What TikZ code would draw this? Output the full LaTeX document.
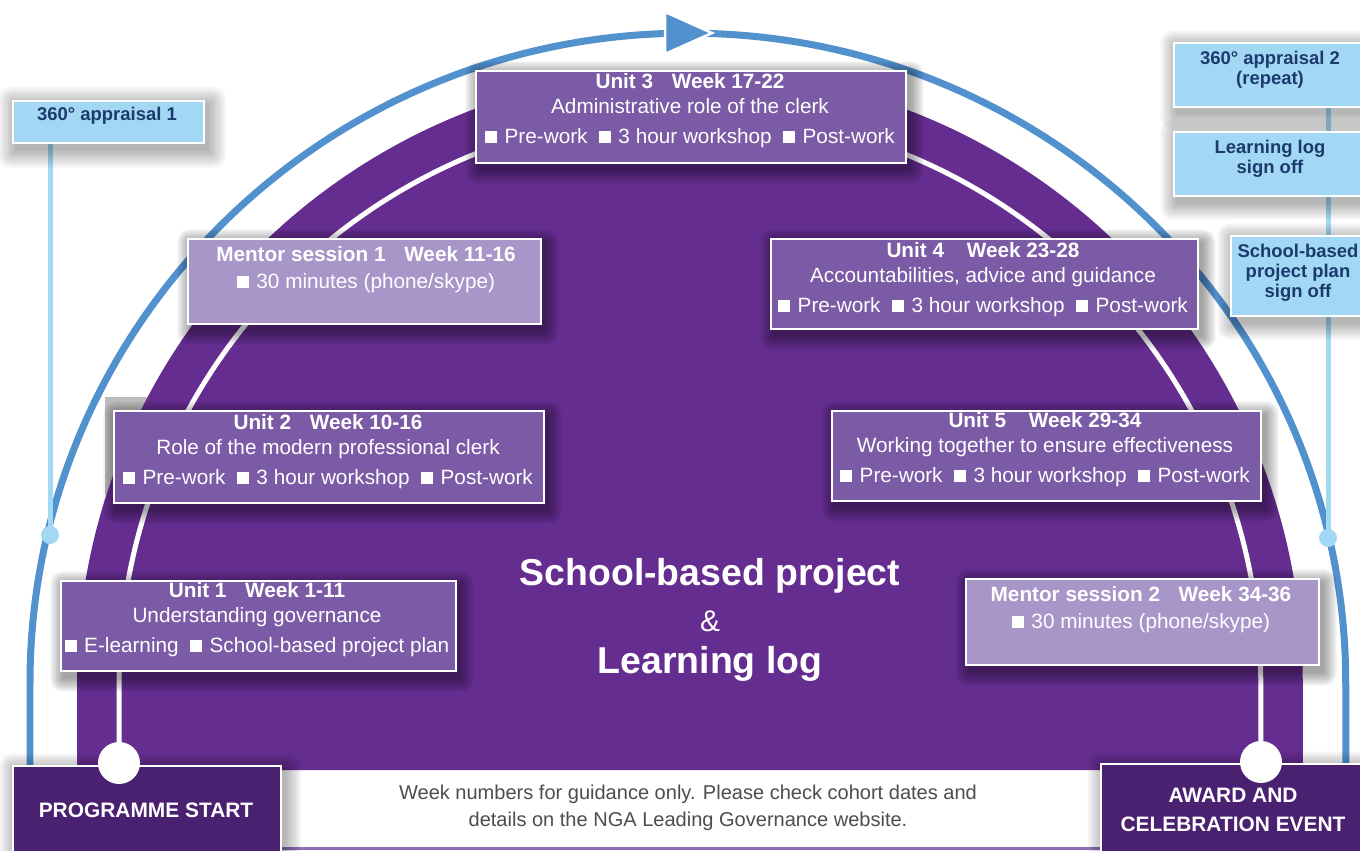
\documentclass[tikz,border=0pt]{standalone}
\usepackage{fontspec}
\setmainfont{Liberation Sans}
\definecolor{domec}{HTML}{652D90}
\definecolor{unitc}{HTML}{7B5BA6}
\definecolor{mentc}{HTML}{A996C9}
\definecolor{endc}{HTML}{4A2070}
\definecolor{bluec}{HTML}{5191CE}
\definecolor{lbluec}{HTML}{A2D8F4}
\definecolor{navyc}{HTML}{1C3A6E}
\definecolor{grayc}{HTML}{BDBDBD}
\definecolor{linec}{HTML}{8E70B8}
\definecolor{notec}{HTML}{4D4D4D}
\pgfdeclarelayer{back}
\pgfdeclarelayer{lines}
\pgfsetlayers{back,lines,main}
\newcommand\bsq{\rule{0.58em}{0.58em}}
\newcommand\xgA{\hspace{0.36em}}
\newcommand\xgB{\hspace{0.55em}}
\newcommand\xgT{\hspace{0.9em}}
% name, style, x1, y1, x2, y2, shadow opacity per step, spread per step
\newcommand\mkbox[8]{%
  \foreach \k in {0,...,7}{\fill[black,opacity=#7,rounded corners=\k pt] ({#3+3-#8*\k},{#4+4-#8*\k}) rectangle ({#5+6+#8*\k},{#6+9+#8*\k});}
  \node[#2,minimum width={(#5-#3)*0.02cm},minimum height={(#6-#4)*0.02cm}] (#1) at (#3,#4) {};}
\begin{document}
\begin{tikzpicture}[x=0.02cm,y=-0.02cm,
  boxbase/.style={draw=white,line width=0.045cm,inner sep=0pt,anchor=north west},
  unitbox/.style={boxbase,fill=unitc},
  mentbox/.style={boxbase,fill=mentc},
  lbox/.style={boxbase,fill=lbluec},
  endbox/.style={boxbase,fill=endc},
  btxt/.style={text=white,font=\fontsize{11.8}{14.2}\selectfont,align=center,inner sep=0pt,anchor=north},
  ltxt/.style={text=navyc,font=\fontsize{10.5}{11.5}\selectfont\bfseries,align=center,inner sep=0pt},
  etxt/.style={text=white,font=\fontsize{11.9}{16.4}\selectfont\bfseries,align=center,inner sep=0pt},
  ctxt/.style={text=white,inner sep=0pt,anchor=base},
  ldot/.style={circle,fill=lbluec,inner sep=0pt,minimum size=0.36cm},
  wdot/.style={circle,fill=white,inner sep=0pt,minimum size=0.84cm},
  lbline/.style={draw=lbluec,line width=0.1cm},
  ring/.style={draw=white,line width=0.1cm},
  barc/.style={draw=bluec,line width=0.14cm}]
\useasboundingbox (0,0) rectangle (1360,851);
\coordinate (bl) at (0,848);
% boxes
\mkbox{a1}{lbox}{12}{100}{203}{142}{0.04}{2.4}
\mkbox{a2}{lbox}{1173}{42}{1364}{106}{0.04}{2.2}
\mkbox{ll}{lbox}{1173}{131}{1364}{195}{0.04}{2.2}
\mkbox{sp}{lbox}{1230}{235}{1364}{315}{0.04}{2.2}
\mkbox{u3}{unitbox}{475}{70}{905}{162}{0.05}{1.8}
\mkbox{m1}{mentbox}{187}{238}{540}{323}{0.05}{1.8}
\mkbox{u2}{unitbox}{113}{410}{543}{502}{0.05}{1.8}
\mkbox{u1}{unitbox}{60}{580}{455}{670}{0.05}{1.8}
\mkbox{u4}{unitbox}{770}{238}{1197}{328}{0.05}{1.8}
\mkbox{u5}{unitbox}{831}{410}{1260}{500}{0.05}{1.8}
\mkbox{m2}{mentbox}{965}{578}{1318}{664}{0.05}{1.8}
\mkbox{ps}{endbox}{12}{765}{280}{856}{0.04}{2.2}
\mkbox{aw}{endbox}{1100}{763}{1364}{856}{0.04}{2.2}
% dots
\node[ldot] (d1) at (50,535) {};
\node[ldot] (d2) at (1328,538) {};
\node[wdot] (w1) at (119,763) {};
\node[wdot] (w2) at (1261,762) {};
% box texts
\node[btxt] (u3t) at (690,73) {\textbf{Unit 3\xgT Week 17-22}\\Administrative role of the clerk\\[2.8pt]\bsq\xgA Pre-work\xgB\bsq\xgA 3 hour workshop\xgB\bsq\xgA Post-work};
\node[btxt] (m1t) at (366,246) {\textbf{Mentor session 1\xgT Week 11-16}\\[1pt]\bsq\xgA 30 minutes (phone/skype)};
\node[btxt] (u2t) at (328,414) {\textbf{Unit 2\xgT Week 10-16}\\Role of the modern professional clerk\\[2.8pt]\bsq\xgA Pre-work\xgB\bsq\xgA 3 hour workshop\xgB\bsq\xgA Post-work};
\node[btxt] (u1t) at (257,582) {\textbf{Unit 1\xgT Week 1-11}\\Understanding governance\\[2.8pt]\bsq\xgA E-learning\xgB\bsq\xgA School-based project plan};
\node[btxt] (u4t) at (983,242) {\textbf{Unit 4\hspace{1.1em}Week 23-28}\\Accountabilities, advice and guidance\\[2.8pt]\bsq\xgA Pre-work\xgB\bsq\xgA 3 hour workshop\xgB\bsq\xgA Post-work};
\node[btxt] (u5t) at (1045,412) {\textbf{Unit 5\hspace{1.1em}Week 29-34}\\Working together to ensure effectiveness\\[2.8pt]\bsq\xgA Pre-work\xgB\bsq\xgA 3 hour workshop\xgB\bsq\xgA Post-work};
\node[btxt] (m2t) at (1141,586) {\textbf{Mentor session 2\xgT Week 34-36}\\[1pt]\bsq\xgA 30 minutes (phone/skype)};
% light blue texts
\node[ltxt,anchor=base] (a1t) at (107,121) {360° appraisal 1};
\node[ltxt,anchor=north] (a2t) at (1270,50.5) {360° appraisal 2\\(repeat)};
\node[ltxt,anchor=north] (llt) at (1270,139.5) {Learning log\\sign off};
\node[ltxt,anchor=north] (spt) at (1298,243.5) {School-based\\project plan\\sign off};
% end texts
\node[etxt,anchor=base] (pst) at (146,817) {PROGRAMME START};
\node[etxt,anchor=north] (awt) at (1233,788) {AWARD AND\\CELEBRATION EVENT};
% centre texts
\node[ctxt,font=\fontsize{21.3}{25}\selectfont\bfseries] (c1) at (710,585) {School-based project};
\node[ctxt,font=\fontsize{17}{20}\selectfont] (c2) at (710,631) {\&};
\node[ctxt,font=\fontsize{21.3}{25}\selectfont\bfseries] (c3) at (710,673) {Learning log};
% note
\node[text=notec,font=\fontsize{11.4}{15.3}\selectfont,align=center,anchor=north,inner sep=0pt] (note) at (688,785) {Week numbers for guidance only. Please check cohort dates and\\details on the NGA Leading Governance website.};
\begin{pgfonlayer}{lines}
\draw[lbline] (d1.center) -- (d1 |- a1.south);
\draw[lbline] (d2.center) -- (d2 |- a2.south);
\end{pgfonlayer}
\begin{pgfonlayer}{back}
\fill[white] (0,0) rectangle (1360,851);
\fill[grayc] (105,397) rectangle (530,495);
\fill[domec] (77,770) -- (77,683) arc[start angle=180,end angle=0,radius=12.26cm] -- (1303,770) -- cycle;
\draw[ring] (w1.center) -- (119,683) arc[start angle=180,end angle=0,radius=11.42cm] -- (w2.center);
\draw[barc] (30,768) -- (30,683) arc[start angle=180,end angle=0,x radius=13.16cm,y radius=13cm] -- (1346,768);
\filldraw[fill=bluec,draw=white,line width=0.05cm] (665,12) -- (665,54) -- (712,33) -- cycle;
\draw[linec,line width=0.06cm] (ps.east |- bl) -- (aw.west |- bl);
\end{pgfonlayer}
\end{tikzpicture}
\end{document}
